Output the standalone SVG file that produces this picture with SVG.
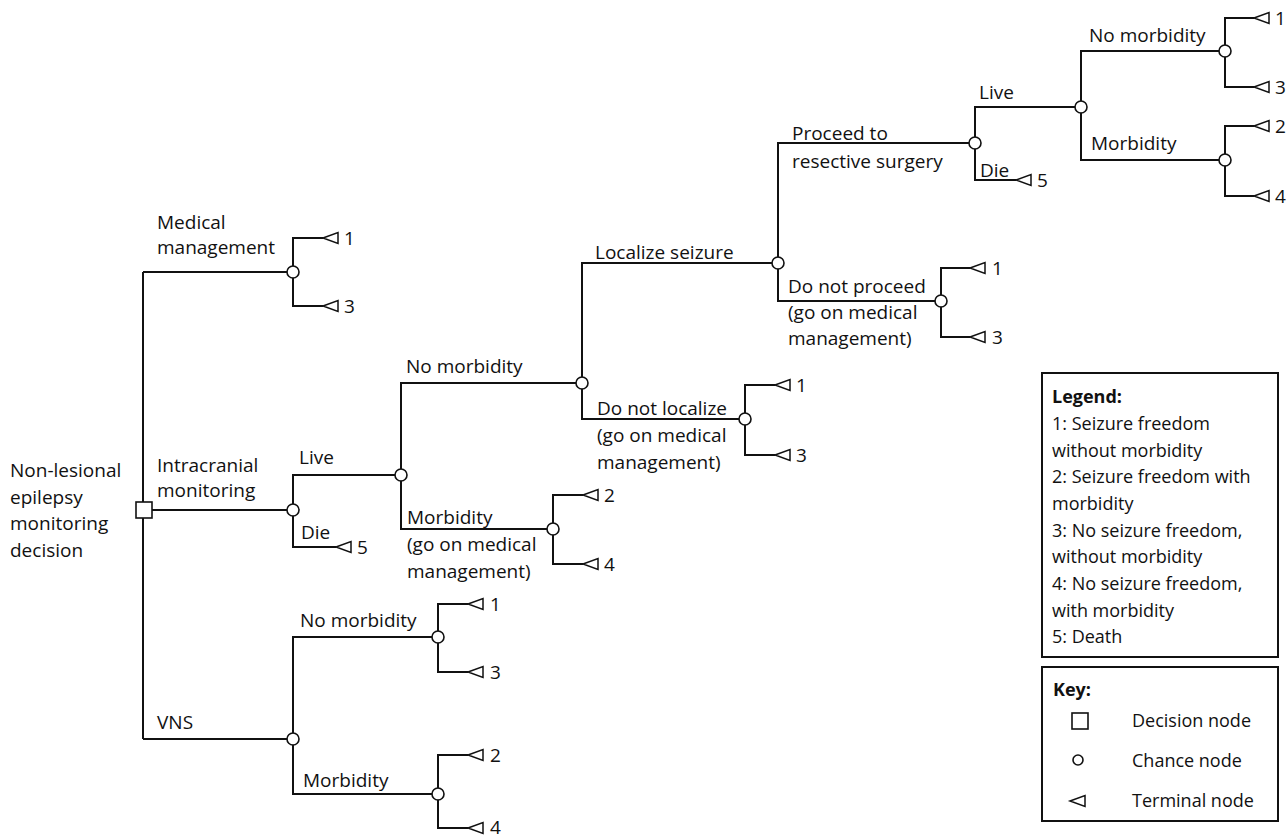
<svg xmlns="http://www.w3.org/2000/svg" xmlns:xlink="http://www.w3.org/1999/xlink" width="1287" height="839" viewBox="0 0 1287 839">
<style>
.ln{fill:none;stroke:#111;stroke-width:2}
.ch{fill:#fff;stroke:#111;stroke-width:1.6}
.dc{fill:#fff;stroke:#111;stroke-width:1.6}
.tr{fill:#fff;stroke:#111;stroke-width:1.5}
.t{font-family:"Open Sans","Noto Sans","Liberation Sans",sans-serif;font-size:19px;fill:#111}
.lg{font-family:"Open Sans","Noto Sans","Liberation Sans",sans-serif;font-size:18px;fill:#111}
.b{font-weight:bold}
.box{fill:#fff;stroke:#111;stroke-width:2}
</style>
<defs>
<path id="tri" class="tr" d="M0,0 L15,-5.5 L15,5.5 Z"/>
</defs>
<rect width="1287" height="839" fill="#fff"/>
<g id="connectors">
<path class="ln" d="M143,272 V739"/>
<path class="ln" d="M143,272 H293"/>
<path class="ln" d="M152,510 H293"/>
<path class="ln" d="M143,739 H293"/>
<path class="ln" d="M323,238 H293 V306 H323"/>
<path class="ln" d="M401,475 H293 V547 H336"/>
<path class="ln" d="M582,383 H401 V529 H553"/>
<path class="ln" d="M583,495 H553 V564 H583"/>
<path class="ln" d="M778,263 H582 V419 H745"/>
<path class="ln" d="M775,385 H745 V455 H775"/>
<path class="ln" d="M975,143 H778 V301 H941"/>
<path class="ln" d="M970,268 H941 V337 H970"/>
<path class="ln" d="M1081,107 H975 V180 H1016"/>
<path class="ln" d="M1225,51 H1081 V160 H1225"/>
<path class="ln" d="M1254,18 H1225 V87 H1254"/>
<path class="ln" d="M1254,126 H1225 V196 H1254"/>
<path class="ln" d="M438,637 H293 V794 H438"/>
<path class="ln" d="M468,604 H438 V672 H468"/>
<path class="ln" d="M468,755 H438 V828 H468"/>
</g>
<g id="decision-root">
<rect class="dc" x="136" y="502" width="16" height="16"/>
<text class="t" x="10" y="477">Non-lesional</text>
<text class="t" x="10" y="504">epilepsy</text>
<text class="t" x="10" y="530">monitoring</text>
<text class="t" x="10" y="557">decision</text>
</g>
<g id="medical">
<text class="t" x="157" y="229">Medical</text>
<text class="t" x="157" y="254">management</text>
<circle class="ch" cx="293" cy="272" r="6"/>
<use xlink:href="#tri" x="323" y="238"/><text class="t" x="344" y="245">1</text>
<use xlink:href="#tri" x="323" y="306"/><text class="t" x="344" y="313">3</text>
</g>
<g id="intracranial">
<text class="t" x="157" y="472">Intracranial</text>
<text class="t" x="157" y="497">monitoring</text>
<circle class="ch" cx="293" cy="510" r="6"/>
<text class="t" x="299" y="464">Live</text>
<text class="t" x="301" y="539">Die</text>
<use xlink:href="#tri" x="336" y="547"/><text class="t" x="357" y="554">5</text>
</g>
<g id="ic-live">
<circle class="ch" cx="401" cy="475" r="6"/>
<text class="t" x="406" y="373">No morbidity</text>
<text class="t" x="407" y="524">Morbidity</text>
<text class="t" x="407" y="551">(go on medical</text>
<text class="t" x="407" y="578">management)</text>
</g>
<g id="ic-morbidity">
<circle class="ch" cx="553" cy="529" r="6"/>
<use xlink:href="#tri" x="583" y="495"/><text class="t" x="604" y="502">2</text>
<use xlink:href="#tri" x="583" y="564"/><text class="t" x="604" y="571">4</text>
</g>
<g id="ic-no-morbidity">
<circle class="ch" cx="582" cy="383" r="6"/>
<text class="t" x="595" y="259">Localize seizure</text>
<text class="t" x="597" y="415">Do not localize</text>
<text class="t" x="597" y="442">(go on medical</text>
<text class="t" x="597" y="469">management)</text>
</g>
<g id="do-not-localize">
<circle class="ch" cx="745" cy="419" r="6"/>
<use xlink:href="#tri" x="775" y="385"/><text class="t" x="796" y="392">1</text>
<use xlink:href="#tri" x="775" y="455"/><text class="t" x="796" y="462">3</text>
</g>
<g id="localize">
<circle class="ch" cx="778" cy="263" r="6"/>
<text class="t" x="792" y="140">Proceed to</text>
<text class="t" x="792" y="168">resective surgery</text>
<text class="t" x="788" y="293">Do not proceed</text>
<text class="t" x="788" y="319">(go on medical</text>
<text class="t" x="788" y="345">management)</text>
</g>
<g id="do-not-proceed">
<circle class="ch" cx="941" cy="301" r="6"/>
<use xlink:href="#tri" x="970" y="268"/><text class="t" x="992" y="275">1</text>
<use xlink:href="#tri" x="970" y="337"/><text class="t" x="992" y="344">3</text>
</g>
<g id="surgery">
<circle class="ch" cx="975" cy="143" r="6"/>
<text class="t" x="979" y="99">Live</text>
<text class="t" x="980" y="177">Die</text>
<use xlink:href="#tri" x="1016" y="180"/><text class="t" x="1037" y="187">5</text>
</g>
<g id="surgery-live">
<circle class="ch" cx="1081" cy="107" r="6"/>
<text class="t" x="1089" y="42">No morbidity</text>
<text class="t" x="1091" y="150">Morbidity</text>
</g>
<g id="surgery-no-morbidity">
<circle class="ch" cx="1225" cy="51" r="6"/>
<use xlink:href="#tri" x="1254" y="18"/><text class="t" x="1275" y="25">1</text>
<use xlink:href="#tri" x="1254" y="87"/><text class="t" x="1275" y="94">3</text>
</g>
<g id="surgery-morbidity">
<circle class="ch" cx="1225" cy="160" r="6"/>
<use xlink:href="#tri" x="1254" y="126"/><text class="t" x="1275" y="133">2</text>
<use xlink:href="#tri" x="1254" y="196"/><text class="t" x="1275" y="203">4</text>
</g>
<g id="vns">
<text class="t" x="157" y="729">VNS</text>
<circle class="ch" cx="293" cy="739" r="6"/>
<text class="t" x="300" y="627">No morbidity</text>
<text class="t" x="303" y="787">Morbidity</text>
</g>
<g id="vns-no-morbidity">
<circle class="ch" cx="438" cy="637" r="6"/>
<use xlink:href="#tri" x="468" y="604"/><text class="t" x="490" y="611">1</text>
<use xlink:href="#tri" x="468" y="672"/><text class="t" x="490" y="679">3</text>
</g>
<g id="vns-morbidity">
<circle class="ch" cx="438" cy="794" r="6"/>
<use xlink:href="#tri" x="468" y="755"/><text class="t" x="490" y="762">2</text>
<use xlink:href="#tri" x="468" y="828"/><text class="t" x="490" y="834">4</text>
</g>
<g id="legend">
<rect class="box" x="1042" y="373" width="236" height="284"/>
<text class="lg b" x="1052" y="403">Legend:</text>
<text class="lg" x="1052" y="430">1: Seizure freedom</text>
<text class="lg" x="1052" y="457">without morbidity</text>
<text class="lg" x="1052" y="483">2: Seizure freedom with</text>
<text class="lg" x="1052" y="510">morbidity</text>
<text class="lg" x="1052" y="537">3: No seizure freedom,</text>
<text class="lg" x="1052" y="563">without morbidity</text>
<text class="lg" x="1052" y="590">4: No seizure freedom,</text>
<text class="lg" x="1052" y="617">with morbidity</text>
<text class="lg" x="1052" y="643">5: Death</text>
</g>
<g id="key">
<rect class="box" x="1042" y="667" width="236" height="154"/>
<text class="lg b" x="1053" y="696">Key:</text>
<rect class="dc" x="1072" y="713" width="16" height="16"/>
<text class="lg" x="1132" y="727">Decision node</text>
<circle class="ch" cx="1078" cy="760" r="5"/>
<text class="lg" x="1132" y="767">Chance node</text>
<use xlink:href="#tri" x="1070" y="801"/>
<text class="lg" x="1132" y="807">Terminal node</text>
</g>
</svg>
